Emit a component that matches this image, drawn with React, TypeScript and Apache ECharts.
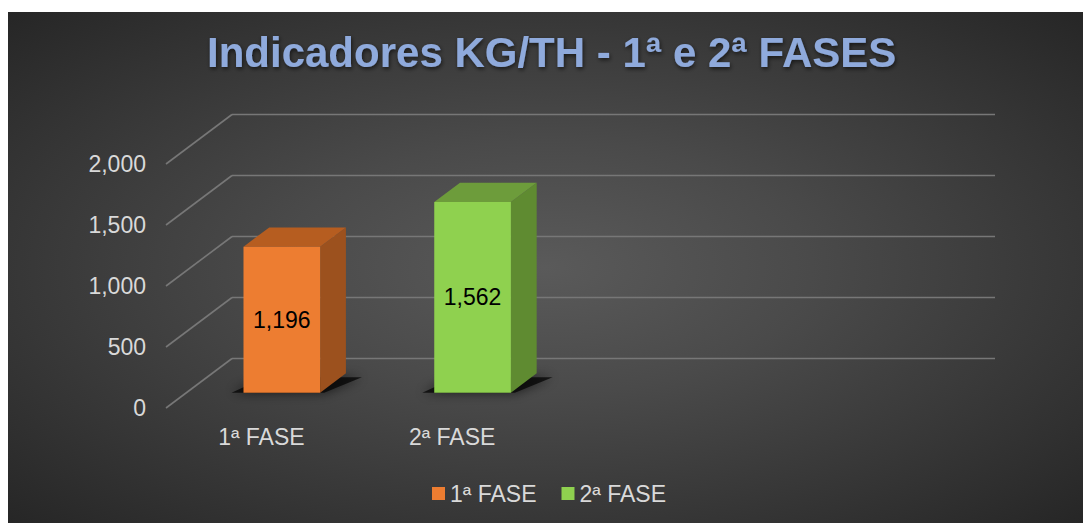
import React, { useEffect, useRef } from 'react';
import * as echarts from 'echarts';

const categories = ['1ª FASE', '2ª FASE', '', ''];
const seriesNames = ['1ª FASE', '2ª FASE'];
const seriesCategoryIndex = [0, 1];
const values = [1196, 1562];
const yTicks = [0, 500, 1000, 1500, 2000];
const titleText = 'Indicadores KG/TH - 1ª e 2ª FASES';

const FONT = '"Liberation Sans", Arial, sans-serif';
const DX = 66;
const DY = 49.5;
const D0 = 0.31;
const D1 = 0.7;
const BAR_FRAC = 0.402;
const GRID_COLOR = '#777777';

const palettes = [
  { front: '#ED7D31', side: '#9C511E', top: '#B65D20' },
  { front: '#8FD14F', side: '#5F8B31', top: '#6D9C3B' },
];

function makeBarRender(pal: { front: string; side: string; top: string }) {
  return (params: any, api: any) => {
    const ci = api.value(0);
    const v = api.value(1);
    const c0 = api.coord([ci, 0]);
    const c1 = api.coord([ci, v]);
    const bw = api.size([1, 0])[0];
    const w = bw * BAR_FRAC;
    const fx0 = c0[0] - w / 2 + D0 * DX;
    const fx1 = fx0 + w;
    const fyB = c0[1] - D0 * DY;
    const fyT = c1[1] - D0 * DY;
    const ddx = (D1 - D0) * DX;
    const ddy = (D1 - D0) * DY;
    return {
      type: 'group',
      children: [
        {
          type: 'polygon',
          shape: {
            points: [
              [fx0 - 12, fyB],
              [fx1 + 4, fyB],
              [fx1 + ddx + 16, fyB - ddy + 4],
              [fx0 + ddx - 4, fyB - ddy + 4],
            ],
          },
          style: { fill: 'rgba(0,0,0,0.7)', shadowBlur: 12, shadowColor: 'rgba(0,0,0,0.9)' },
        },
        {
          type: 'polygon',
          shape: { points: [[fx1, fyT], [fx1 + ddx, fyT - ddy], [fx1 + ddx, fyB - ddy], [fx1, fyB]] },
          style: { fill: pal.side },
        },
        {
          type: 'polygon',
          shape: { points: [[fx0, fyT], [fx0 + ddx, fyT - ddy], [fx1 + ddx, fyT - ddy], [fx1, fyT]] },
          style: { fill: pal.top },
        },
        {
          type: 'rect',
          shape: { x: fx0, y: fyT, width: w, height: fyB - fyT },
          style: { fill: pal.front },
        },
        {
          type: 'text',
          style: {
            text: Number(v).toLocaleString('en-US'),
            x: (fx0 + fx1) / 2,
            y: (fyT + fyB) / 2,
            fill: '#000000',
            font: `23px ${FONT}`,
            align: 'center',
            verticalAlign: 'middle',
            textAlign: 'center',
            textVerticalAlign: 'middle',
          },
        },
      ],
    };
  };
}

function gridRender(params: any, api: any) {
  const v = api.value(1);
  const c = api.coord([0, v]);
  const bw = api.size([1, 0])[0];
  const x0 = c[0] - bw / 2;
  const y = c[1];
  const xEnd = x0 + bw * categories.length;
  const style = { stroke: GRID_COLOR, lineWidth: 1.6 };
  return {
    type: 'group',
    children: [
      { type: 'line', shape: { x1: x0, y1: y, x2: x0 + DX, y2: y - DY }, style },
      { type: 'line', shape: { x1: x0 + DX, y1: y - DY, x2: xEnd + DX, y2: y - DY }, style },
    ],
  };
}

export default function App() {
  const ref = useRef<HTMLDivElement>(null);
  useEffect(() => {
    if (!ref.current) return;
    const chart = echarts.init(ref.current, undefined, { renderer: 'svg' });
    const series: any[] = [
      {
        name: 'grid',
        type: 'custom',
        renderItem: gridRender,
        data: yTicks.map((t) => [0, t]),
        clip: false,
        silent: true,
        z: 1,
      },
    ];
    seriesNames.forEach((name, i) => {
      series.push({
        name,
        type: 'custom',
        renderItem: makeBarRender(palettes[i]),
        data: [[seriesCategoryIndex[i], values[i]]],
        itemStyle: { color: palettes[i].front },
        clip: false,
        z: 2,
      });
    });
    chart.setOption({
      animation: false,
      backgroundColor: 'transparent',
      title: {
        text: titleText,
        left: 194,
        top: 14,
        padding: 5,
        textStyle: {
          fontFamily: FONT,
          fontSize: 42,
          fontWeight: 'bold',
          color: '#8FAADC',
          textShadowColor: 'rgba(0,0,0,0.6)',
          textShadowBlur: 4,
          textShadowOffsetX: 1,
          textShadowOffsetY: 2,
        },
      },
      legend: {
        data: seriesNames,
        left: 419,
        top: 465,
        icon: 'rect',
        itemWidth: 13,
        itemHeight: 13,
        itemGap: 25,
        textStyle: { color: '#D9D9D9', fontSize: 23, fontFamily: FONT },
      },
      grid: { left: 158, right: 154, top: 152, bottom: 115 },
      xAxis: {
        type: 'category',
        data: categories,
        axisLine: { show: false },
        axisTick: { show: false },
        splitLine: { show: false },
        axisLabel: { color: '#D9D9D9', fontSize: 23, fontFamily: FONT, margin: 17, interval: 0 },
      },
      yAxis: {
        type: 'value',
        min: 0,
        max: 2000,
        interval: 500,
        axisLine: { show: false },
        axisTick: { show: false },
        splitLine: { show: false },
        axisLabel: {
          color: '#D9D9D9',
          fontSize: 23,
          fontFamily: FONT,
          margin: 20,
          formatter: (val: number) => val.toLocaleString('en-US'),
        },
      },
      series,
    });
    return () => chart.dispose();
  }, []);
  return (
    <div
      ref={ref}
      style={{
        position: 'absolute',
        left: 8,
        top: 12,
        width: 1075,
        height: 511,
        background:
          'radial-gradient(ellipse farthest-corner at 50% 50%, #5a5a5a 0%, #4a4a4a 35%, #262626 100%)',
      }}
    />
  );
}
